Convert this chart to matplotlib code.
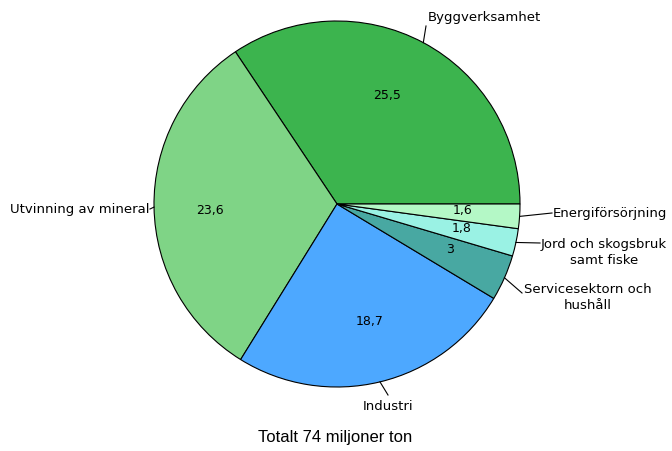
import matplotlib
matplotlib.use('Agg')
import matplotlib.pyplot as plt
import numpy as np

# Data
sectors = ['Byggverksamhet', 'Utvinning av mineral', 'Industri',
           'Servicesektorn och\nhushåll', 'Jord och skogsbruk\nsamt fiske',
           'Energiförsörjning']
values = [25.5, 23.6, 18.7, 3, 1.8, 1.6]
value_labels = ['25,5', '23,6', '18,7', '3', '1,8', '1,6']
colors = ['#3cb44e', '#7fd486', '#4da8ff', '#48a8a2', '#9af2e4', '#b4f8c6']
title = 'Totalt 74 miljoner ton'

plt.rcParams['font.family'] = ['DejaVu Sans']

W, H = 672, 452
fig = plt.figure(figsize=(W / 100, H / 100), dpi=100)
cx, cy, r = 337, 205, 183
ax = fig.add_axes([(cx - r) / W, (H - cy - r) / H, 2 * r / W, 2 * r / H])

wedges, _ = ax.pie(values, colors=colors, startangle=0, counterclock=True,
                   radius=1, wedgeprops=dict(edgecolor='black', linewidth=0.8))
# pie resets limits, so set them afterwards
ax.set_xlim(-1, 1)
ax.set_ylim(-1, 1)
ax.axis('off')

def px(x, y):
    return ((x - cx) / r, (cy - y) / r)

# value text positions (pixel coords in reference)
val_pos = [(387, 95), (210, 211), (370, 322), (450, 250), (462, 229), (463, 211)]
for lab, (x, y) in zip(value_labels, val_pos):
    ax.text(*px(x, y), lab, ha='center', va='center', fontsize=9, color='black')

# outer labels: (text position, alignment, leader end)
out = [
    ((428, 18), 'left', (426, 27)),
    ((150, 210), 'right', (150, 210)),
    ((388, 406), 'center', (388, 396)),
    ((588, 298), 'center', (522, 294)),
    ((604, 253), 'center', (540, 244)),
    ((553, 214), 'left', (552, 214)),
]
for w, name, ((tx, ty), ha, (lx, ly)) in zip(wedges, sectors, out):
    mid = np.deg2rad((w.theta1 + w.theta2) / 2)
    ex, ey = np.cos(mid), np.sin(mid)
    ax.plot([ex, px(lx, ly)[0]], [ey, px(lx, ly)[1]], color='black', lw=0.8,
            clip_on=False)
    ax.text(*px(tx, ty), name, ha=ha, va='center', fontsize=9.5,
            linespacing=1.3, multialignment='center', clip_on=False)

fig.text(335 / W, 1 - 438 / H, title, ha='center', va='center', fontsize=12,
         family='Liberation Sans')

fig.savefig('out.png', dpi=100)
